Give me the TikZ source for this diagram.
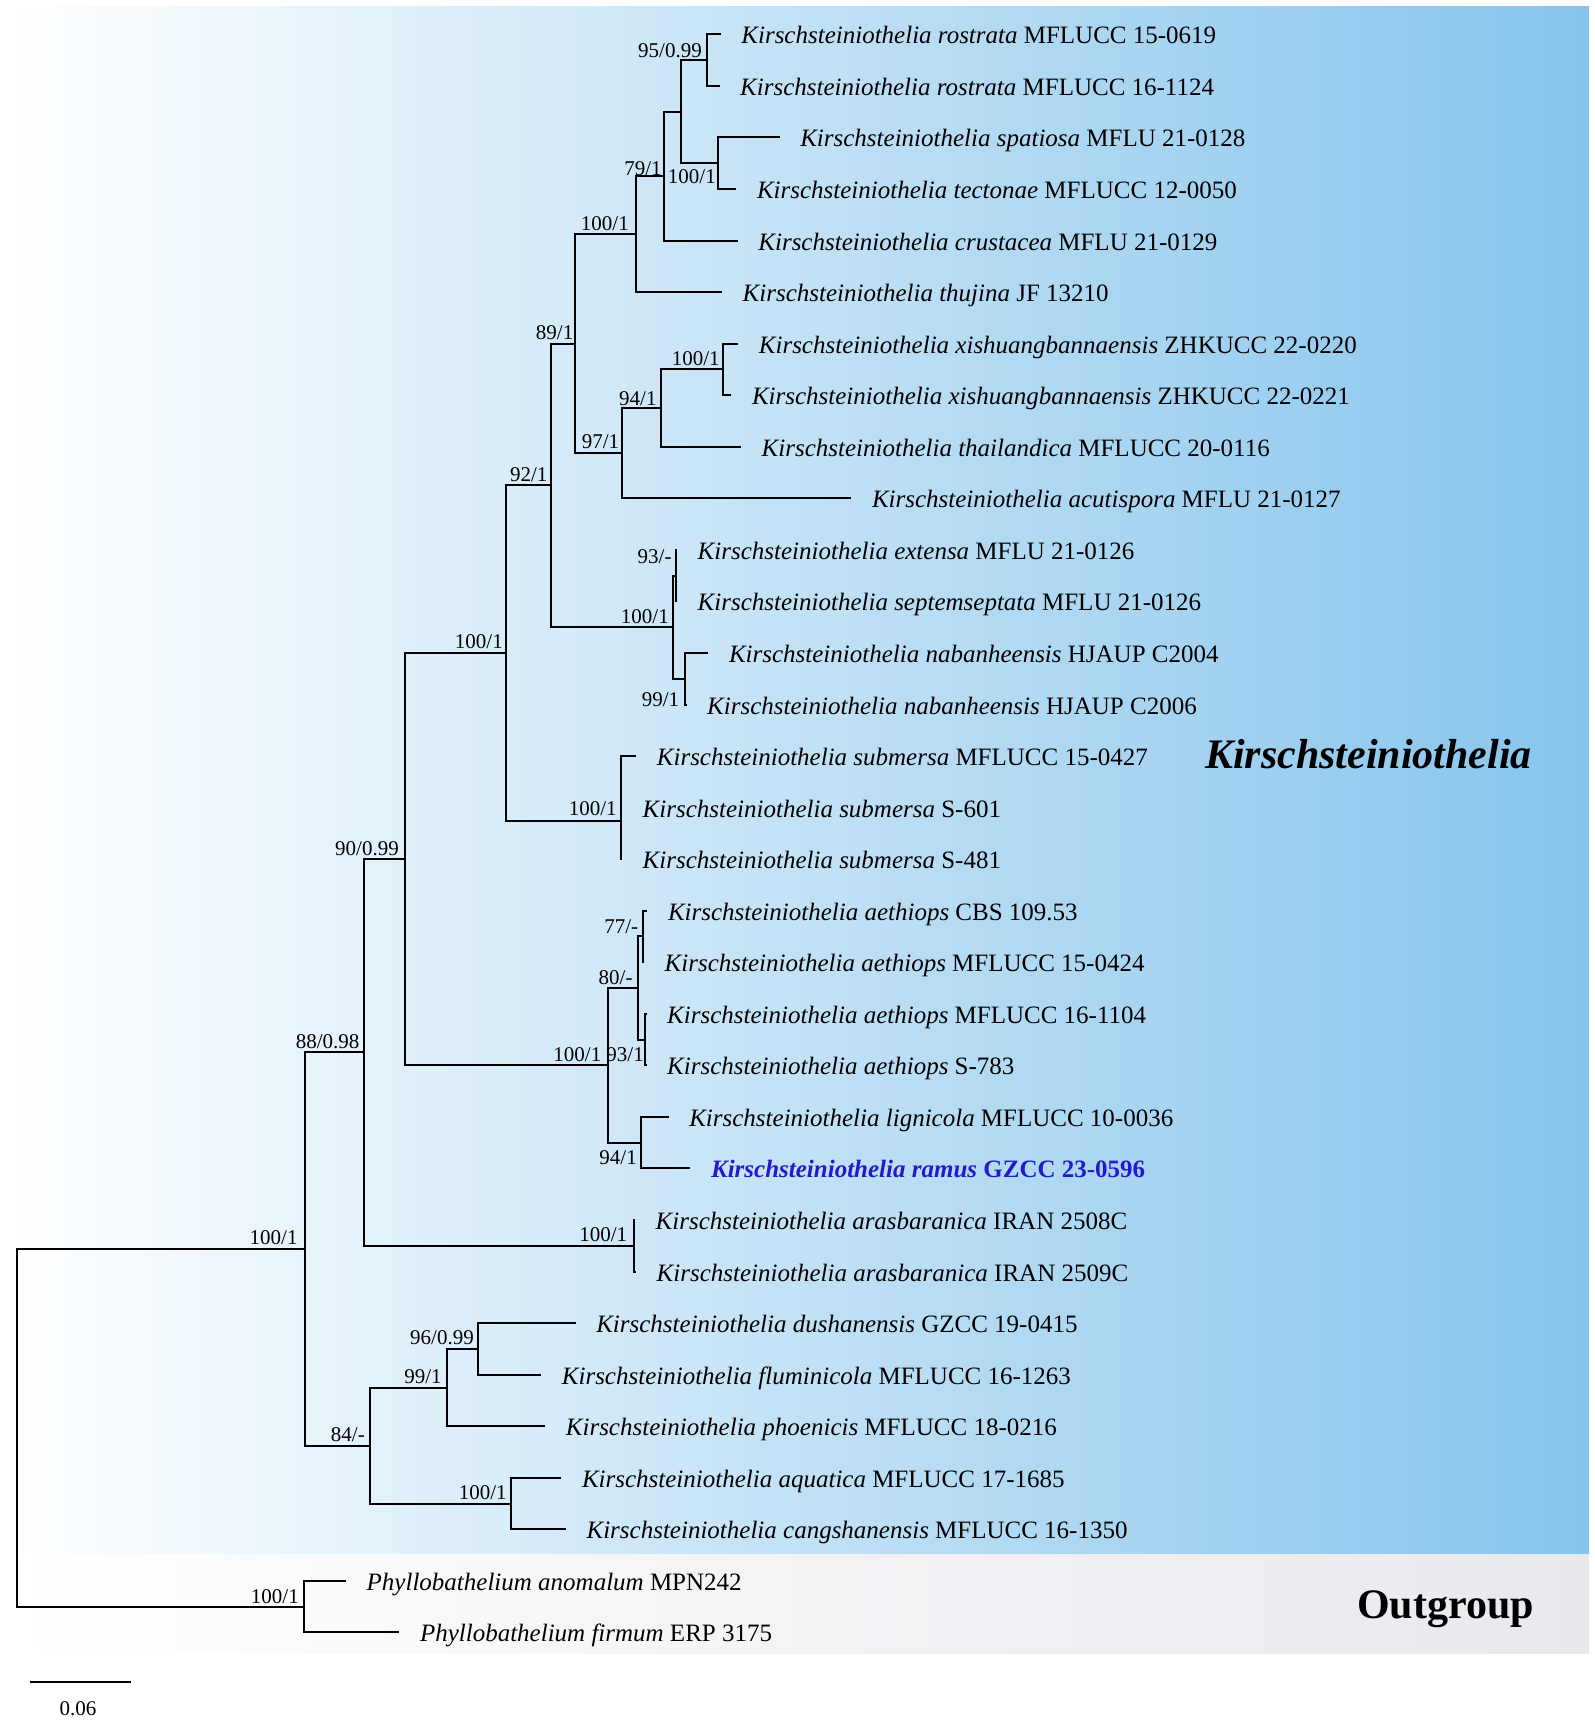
\documentclass[tikz,border=0pt]{standalone}
\usepackage{fontspec}
\setmainfont{Liberation Serif}
\definecolor{bluer}{RGB}{134,196,236}
\definecolor{outgr}{RGB}{232,232,238}
\definecolor{newsp}{RGB}{35,25,205}
\tikzset{
  br/.style={line width=2pt, line join=miter},
  taxon/.style={anchor=base west, inner sep=0pt, xshift=20.5pt, yshift=-9.5pt, font=\fontsize{25}{30}\selectfont},
  lab/.style={anchor=base east, inner sep=0pt, font=\fontsize{21}{25}\selectfont},
  clade/.style={anchor=base west, inner sep=0pt, font=\fontsize{42}{50}\selectfont\bfseries},
}
\begin{document}
\begin{tikzpicture}[x=1pt,y=-1pt]
\useasboundingbox (0,0) rectangle (1595,1729);
% backgrounds
\shade[left color=white, right color=bluer] (0,6) rectangle (1589,1554);
\shade[left color=white, right color=outgr] (0,1554) rectangle (1589,1653);
% tips
\coordinate (t0) at (720.7,34.3);
\coordinate (t1) at (719.5,85.9);
\coordinate (t2) at (779.6,137.4);
\coordinate (t3) at (736.3,189.0);
\coordinate (t4) at (737.7,240.5);
\coordinate (t5) at (722,292.1);
\coordinate (t6) at (738.2,343.6);
\coordinate (t7) at (731.3,395.2);
\coordinate (t8) at (741,446.7);
\coordinate (t9) at (851.3,498.3);
\coordinate (t10) at (677,549.8);
\coordinate (t11) at (677,601.4);
\coordinate (t12) at (708.3,652.9);
\coordinate (t13) at (686.5,704.5);
\coordinate (t14) at (636.2,756.0);
\coordinate (t15) at (622,807.6);
\coordinate (t16) at (622,859.1);
\coordinate (t17) at (647.3,910.7);
\coordinate (t18) at (644,962.2);
\coordinate (t19) at (646.5,1013.8);
\coordinate (t20) at (646.5,1065.3);
\coordinate (t21) at (668.6,1116.9);
\coordinate (t22) at (690.4,1168.4);
\coordinate (t23) at (635,1220.0);
\coordinate (t24) at (636,1271.5);
\coordinate (t25) at (575.6,1323.1);
\coordinate (t26) at (541.2,1374.6);
\coordinate (t27) at (545.2,1426.2);
\coordinate (t28) at (561.3,1477.7);
\coordinate (t29) at (565.9,1529.3);
\coordinate (t30) at (346,1580.8);
\coordinate (t31) at (399.3,1632.4);
% internal nodes
\coordinate (root) at (16.7,1427.8);
\coordinate (ing) at (304.7,1249);
\coordinate (out) at (304,1606.6);
\coordinate (n88) at (364.4,1052.4);
\coordinate (n84) at (370,1445.5);
\coordinate (n90) at (405.1,859.1);
\coordinate (n100ar) at (634.2,1245.75);
\coordinate (n100) at (506.1,653);
\coordinate (n100a) at (607.5,1065.3);
\coordinate (n92) at (550.5,485.4);
\coordinate (n100sub) at (621,820.5);
\coordinate (n89) at (575,343.65);
\coordinate (n100e) at (673,627.15);
\coordinate (n100t) at (635.9,234.1);
\coordinate (n97) at (622.3,453.2);
\coordinate (n79) at (664,176.1);
\coordinate (nA) at (680.5,111.65);
\coordinate (n95) at (707.3,60.1);
\coordinate (n100s) at (717.6,163.2);
\coordinate (n94) at (660.7,408.05);
\coordinate (n100x) at (722.7,369.4);
\coordinate (n93m) at (676,575.6);
\coordinate (n99n) at (685,678.7);
\coordinate (n80) at (637.7,988);
\coordinate (n77) at (643.3,936.45);
\coordinate (n93a) at (645,1039.55);
\coordinate (n94l) at (640.5,1142.65);
\coordinate (n99) at (446.5,1387.5);
\coordinate (n96) at (478,1348.85);
\coordinate (n100aq) at (511.3,1503.5);
% branches
\draw[br] (root) |- (ing);  \draw[br] (root) |- (out);
\draw[br] (ing) |- (n88);   \draw[br] (ing) |- (n84);
\draw[br] (n88) |- (n90);   \draw[br] (n88) |- (n100ar);
\draw[br] (n90) |- (n100);  \draw[br] (n90) |- (n100a);
\draw[br] (n100) |- (n92);  \draw[br] (n100) |- (n100sub);
\draw[br] (n92) |- (n89);   \draw[br] (n92) |- (n100e);
\draw[br] (n89) |- (n100t); \draw[br] (n89) |- (n97);
\draw[br] (n100t) |- (n79); \draw[br] (n100t) |- (t5);
\draw[br] (n79) |- (nA);    \draw[br] (n79) |- (t4);
\draw[br] (nA) |- (n95);    \draw[br] (nA) |- (n100s);
\draw[br] (n95) |- (t0);    \draw[br] (n95) |- (t1);
\draw[br] (n100s) |- (t2);  \draw[br] (n100s) |- (t3);
\draw[br] (n97) |- (n94);   \draw[br] (n97) |- (t9);
\draw[br] (n94) |- (n100x); \draw[br] (n94) |- (t8);
\draw[br] (n100x) |- (t6);  \draw[br] (n100x) |- (t7);
\draw[br] (n100e) |- (n93m); \draw[br] (n100e) |- (n99n);
\draw[br] (n93m) |- (t10);  \draw[br] (n93m) |- (t11);
\draw[br] (n99n) |- (t12);  \draw[br] (n99n) |- (t13);
\draw[br] (n100sub) |- (t14); \draw[br] (n100sub) |- (t15); \draw[br] (n100sub) |- (t16);
\draw[br] (n100a) |- (n80); \draw[br] (n100a) |- (n94l);
\draw[br] (n80) |- (n77);   \draw[br] (n80) |- (n93a);
\draw[br] (n77) |- (t17);   \draw[br] (n77) |- (t18);
\draw[br] (n93a) |- (t19);  \draw[br] (n93a) |- (t20);
\draw[br] (n94l) |- (t21);  \draw[br] (n94l) |- (t22);
\draw[br] (n100ar) |- (t23); \draw[br] (n100ar) |- (t24);
\draw[br] (n84) |- (n99);   \draw[br] (n84) |- (n100aq);
\draw[br] (n99) |- (n96);   \draw[br] (n99) |- (t27);
\draw[br] (n96) |- (t25);   \draw[br] (n96) |- (t26);
\draw[br] (n100aq) |- (t28); \draw[br] (n100aq) |- (t29);
\draw[br] (out) |- (t30);   \draw[br] (out) |- (t31);
% taxon names
\node[taxon] (x0) at (t0) {\textit{Kirschsteiniothelia rostrata} MFLUCC 15-0619};
\node[taxon] (x1) at (t1) {\textit{Kirschsteiniothelia rostrata} MFLUCC 16-1124};
\node[taxon] (x2) at (t2) {\textit{Kirschsteiniothelia spatiosa} MFLU 21-0128};
\node[taxon] (x3) at (t3) {\textit{Kirschsteiniothelia tectonae} MFLUCC 12-0050};
\node[taxon] (x4) at (t4) {\textit{Kirschsteiniothelia crustacea} MFLU 21-0129};
\node[taxon] (x5) at (t5) {\textit{Kirschsteiniothelia thujina} JF 13210};
\node[taxon] (x6) at (t6) {\textit{Kirschsteiniothelia xishuangbannaensis} ZHKUCC 22-0220};
\node[taxon] (x7) at (t7) {\textit{Kirschsteiniothelia xishuangbannaensis} ZHKUCC 22-0221};
\node[taxon] (x8) at (t8) {\textit{Kirschsteiniothelia thailandica} MFLUCC 20-0116};
\node[taxon] (x9) at (t9) {\textit{Kirschsteiniothelia acutispora} MFLU 21-0127};
\node[taxon] (x10) at (t10) {\textit{Kirschsteiniothelia extensa} MFLU 21-0126};
\node[taxon] (x11) at (t11) {\textit{Kirschsteiniothelia septemseptata} MFLU 21-0126};
\node[taxon] (x12) at (t12) {\textit{Kirschsteiniothelia nabanheensis} HJAUP C2004};
\node[taxon] (x13) at (t13) {\textit{Kirschsteiniothelia nabanheensis} HJAUP C2006};
\node[taxon] (x14) at (t14) {\textit{Kirschsteiniothelia submersa} MFLUCC 15-0427};
\node[taxon] (x15) at (t15) {\textit{Kirschsteiniothelia submersa} S-601};
\node[taxon] (x16) at (t16) {\textit{Kirschsteiniothelia submersa} S-481};
\node[taxon] (x17) at (t17) {\textit{Kirschsteiniothelia aethiops} CBS 109.53};
\node[taxon] (x18) at (t18) {\textit{Kirschsteiniothelia aethiops} MFLUCC 15-0424};
\node[taxon] (x19) at (t19) {\textit{Kirschsteiniothelia aethiops} MFLUCC 16-1104};
\node[taxon] (x20) at (t20) {\textit{Kirschsteiniothelia aethiops} S-783};
\node[taxon] (x21) at (t21) {\textit{Kirschsteiniothelia lignicola} MFLUCC 10-0036};
\node[taxon, text=newsp] (x22) at (t22) {\bfseries\textit{Kirschsteiniothelia ramus} GZCC 23-0596};
\node[taxon] (x23) at (t23) {\textit{Kirschsteiniothelia arasbaranica} IRAN 2508C};
\node[taxon] (x24) at (t24) {\textit{Kirschsteiniothelia arasbaranica} IRAN 2509C};
\node[taxon] (x25) at (t25) {\textit{Kirschsteiniothelia dushanensis} GZCC 19-0415};
\node[taxon] (x26) at (t26) {\textit{Kirschsteiniothelia fluminicola} MFLUCC 16-1263};
\node[taxon] (x27) at (t27) {\textit{Kirschsteiniothelia phoenicis} MFLUCC 18-0216};
\node[taxon] (x28) at (t28) {\textit{Kirschsteiniothelia aquatica} MFLUCC 17-1685};
\node[taxon] (x29) at (t29) {\textit{Kirschsteiniothelia cangshanensis} MFLUCC 16-1350};
\node[taxon] (x30) at (t30) {\textit{Phyllobathelium anomalum} MPN242};
\node[taxon] (x31) at (t31) {\textit{Phyllobathelium firmum} ERP 3175};
% support values
\node[lab] (l95) at (702,57) {95/0.99};
\node[lab] (l79) at (661.8,175) {79/1};
\node[lab] (l100s) at (716,183) {100/1};
\node[lab] (l100t) at (629,230) {100/1};
\node[lab] (l89) at (573.5,339.3) {89/1};
\node[lab] (l100x) at (719.9,365.7) {100/1};
\node[lab] (l94) at (656.7,405) {94/1};
\node[lab] (l97) at (619.4,448.5) {97/1};
\node[lab] (l92) at (547.6,481.7) {92/1};
\node[lab] (l93m) at (671.7,563.3) {93/-};
\node[lab] (l100e) at (669,623.3) {100/1};
\node[lab] (l99n) at (679.3,706.7) {99/1};
\node[lab] (l100) at (503,648.6) {100/1};
\node[lab] (l100sub) at (616.8,815) {100/1};
\node[lab] (l90) at (399,855) {90/0.99};
\node[lab] (l77) at (638.3,933.3) {77/-};
\node[lab] (l80) at (632.7,984.3) {80/-};
\node[lab] (l93a) at (644,1061.7) {93/1};
\node[lab] (l100a) at (601.5,1061.7) {100/1};
\node[lab] (l94l) at (637,1164) {94/1};
\node[lab] (l88) at (359.6,1048) {88/0.98};
\node[lab] (l100ar) at (627.3,1241) {100/1};
\node[lab] (l100ing) at (297.7,1244) {100/1};
\node[lab] (l96) at (474,1344.5) {96/0.99};
\node[lab] (l99) at (441.9,1383) {99/1};
\node[lab] (l84) at (365,1441) {84/-};
\node[lab] (l100aq) at (506.8,1499.3) {100/1};
\node[lab] (l100out) at (299,1603) {100/1};
% clade labels
\node[clade, font=\fontsize{42}{50}\selectfont\bfseries\itshape] (ck) at (1205,768) {Kirschsteiniothelia};
\node[clade] (co) at (1357,1618) {Outgroup};
% scale bar
\coordinate (sb1) at (30,1682.3);
\coordinate (sb2) at (130.7,1682.3);
\draw[br] (sb1) -- (sb2);
\node[anchor=base, inner sep=0pt, font=\fontsize{21}{25}\selectfont] (sbl) at (78,1715) {0.06};
\end{tikzpicture}
\end{document}
